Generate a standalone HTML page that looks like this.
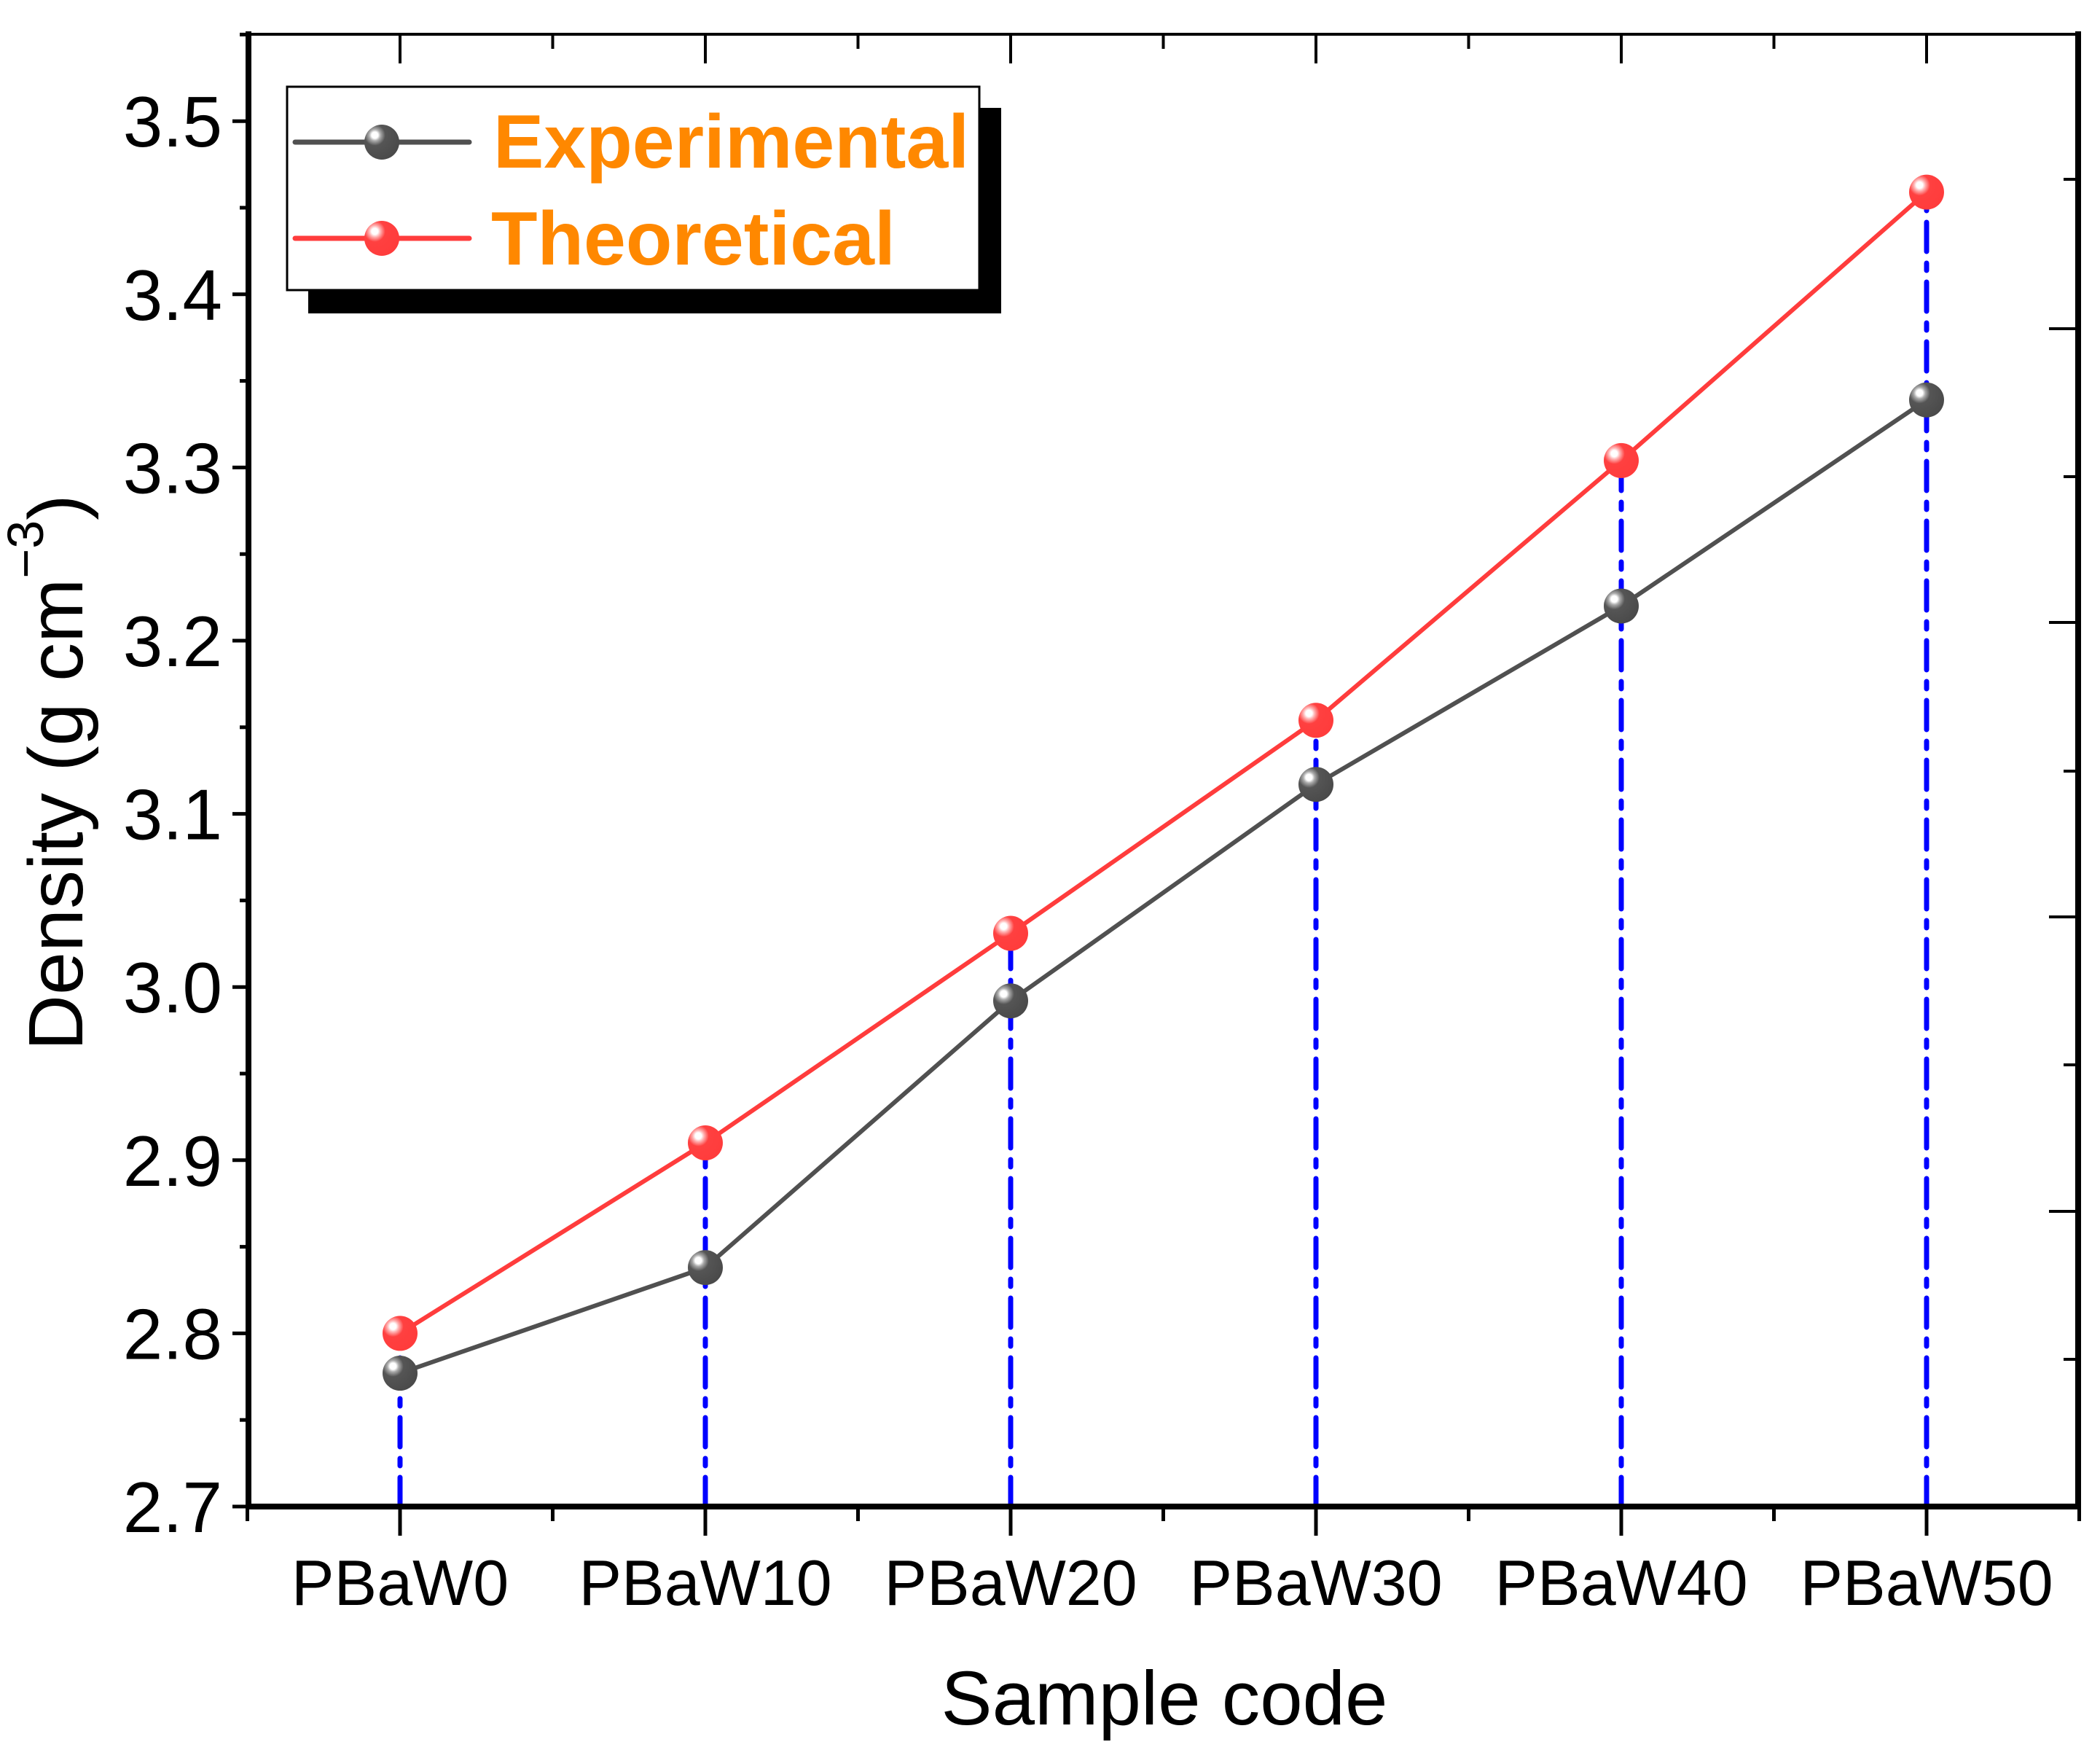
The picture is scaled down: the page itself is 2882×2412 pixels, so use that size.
<!DOCTYPE html>
<html><head><meta charset="utf-8"><style>
html,body{margin:0;padding:0;background:#fff;}
svg{display:block;font-family:"Liberation Sans",Arial,sans-serif;}
</style></head><body>
<svg id="chart" width="2882" height="2412" viewBox="0 0 2882 2412" xmlns="http://www.w3.org/2000/svg">
<defs>
<radialGradient id="gE" cx="0.3" cy="0.3" r="0.75"><stop offset="0" stop-color="#fff"/><stop offset="0.12" stop-color="#fff"/><stop offset="0.22" stop-color="#aaa"/><stop offset="0.4" stop-color="#555"/><stop offset="1" stop-color="#4a4a4a"/></radialGradient>
<radialGradient id="gT" cx="0.3" cy="0.3" r="0.75"><stop offset="0" stop-color="#fff"/><stop offset="0.12" stop-color="#fff"/><stop offset="0.22" stop-color="#ffb0b0"/><stop offset="0.4" stop-color="#ff4040"/><stop offset="1" stop-color="#ff3c3c"/></radialGradient>
</defs>
<g id="drops"></g>
<g id="series"></g>
<g id="axes"></g>
<text x="77" y="1060" font-size="106" text-anchor="middle" transform="rotate(-90 77 1060)" dominant-baseline="central">Density (g cm<tspan dy="-42" font-size="70">−3</tspan><tspan dy="42">)</tspan></text>
<text x="1598" y="2366" font-size="105" text-anchor="middle">Sample code</text>
<g>
<rect x="423" y="148" width="951" height="282" fill="#000"/>
<rect x="394" y="119" width="950" height="279" fill="#fff" stroke="#000" stroke-width="3"/>
<g>
<line x1="405" y1="195" x2="644" y2="195" stroke="#505050" stroke-width="7" stroke-linecap="round"/>
<circle cx="524" cy="195" r="24" fill="url(#gE)"/>
<text x="677" y="230" font-size="104" font-weight="bold" fill="#ff8800">Experimental</text>
</g>
<g>
<line x1="405" y1="327" x2="644" y2="327" stroke="#ff3c3c" stroke-width="7" stroke-linecap="round"/>
<circle cx="524" cy="327" r="24" fill="url(#gT)"/>
<text x="674" y="363" font-size="104" font-weight="bold" fill="#ff8800">Theoretical</text>
</g>
</g>
</svg>
<script>
const categories = ["PBaW0","PBaW10","PBaW20","PBaW30","PBaW40","PBaW50"];
const experimental = [2.777, 2.838, 2.992, 3.117, 3.220, 3.339];
const theoretical = [2.800, 2.910, 3.031, 3.154, 3.304, 3.459];
const yTicks = [2.7, 2.8, 2.9, 3.0, 3.1, 3.2, 3.3, 3.4, 3.5];
const yTickLabels = ["2.7","2.8","2.9","3.0","3.1","3.2","3.3","3.4","3.5"];

const NS = "http://www.w3.org/2000/svg";
const L = 341, R = 2852, T = 47, B = 2067;
function yScale(v){ return 2067 - (v - 2.7) / 0.1 * 237.6; }
function xScale(i){ return 549 + i * 419; }
function mk(tag, attrs, parent){ const e = document.createElementNS(NS, tag); for (const k in attrs) e.setAttribute(k, attrs[k]); parent.appendChild(e); return e; }

const axes = document.getElementById('axes');
const drops = document.getElementById('drops');
const series = document.getElementById('series');

categories.forEach((c, i) => {
  const top = Math.max(experimental[i], theoretical[i]);
  const l = mk('line', {x1: xScale(i), x2: xScale(i), y1: B, y2: yScale(top), stroke: '#0000ff', 'stroke-width': 7, 'stroke-dasharray': '40 16 10 16', 'stroke-linecap': 'round'}, drops);
  
  
});

function drawSeries(vals, color, grad, name){
  const pts = vals.map((v, i) => xScale(i) + ',' + yScale(v)).join(' ');
  const pl = mk('polyline', {points: pts, fill: 'none', stroke: color, 'stroke-width': 6, 'stroke-linejoin': 'round'}, series);
  
  
  vals.forEach((v, i) => {
    const c = mk('circle', {cx: xScale(i), cy: yScale(v), r: 24, fill: 'url(#' + grad + ')'}, series);
    
    
  });
}
drawSeries(experimental, '#505050', 'gE', 'experimental');
drawSeries(theoretical, '#ff3c3c', 'gT', 'theoretical');

const frame = mk('rect', {x: L, y: T, width: R - L, height: B - T, fill: 'none', stroke: '#000', 'stroke-width': 4}, axes);


const la = mk('line', {x1: L, x2: L, y1: T - 4, y2: B + 4, stroke: '#000', 'stroke-width': 8}, axes);


const ba = mk('line', {x1: L - 4, x2: R + 4, y1: B, y2: B, stroke: '#000', 'stroke-width': 8}, axes);


const ra = mk('line', {x1: R, x2: R, y1: T - 4, y2: B + 4, stroke: '#000', 'stroke-width': 8}, axes);



yTicks.forEach((v, i) => {
  const y = yScale(v);
  mk('line', {x1: L - 22, x2: L, y1: y, y2: y, stroke: '#000', 'stroke-width': 5}, axes);
  if (i < yTicks.length - 1) mk('line', {x1: L - 12, x2: L, y1: yScale(v + 0.05), y2: yScale(v + 0.05), stroke: '#000', 'stroke-width': 5}, axes);
  const t = mk('text', {x: L - 36, y: y + 35, 'font-size': 98, 'text-anchor': 'end'}, axes);
  t.textContent = yTickLabels[i];
  
  
});
mk('line', {x1: L - 12, x2: L, y1: yScale(3.55), y2: yScale(3.55), stroke: '#000', 'stroke-width': 5}, axes);

[246, 451, 654, 854, 1058, 1258, 1461, 1662, 1865].forEach((y, i) => {
  mk('line', {x1: R - (i % 2 ? 40 : 20), x2: R, y1: y, y2: y, stroke: '#000', 'stroke-width': 4}, axes);
});

categories.forEach((c, i) => {
  const x = xScale(i);
  mk('line', {x1: x, x2: x, y1: B, y2: B + 40, stroke: '#000', 'stroke-width': 5}, axes);
  mk('line', {x1: x - 209.5, x2: x - 209.5, y1: B, y2: B + 20, stroke: '#000', 'stroke-width': 5}, axes);
  mk('line', {x1: x, x2: x, y1: T, y2: T + 40, stroke: '#000', 'stroke-width': 4}, axes);
  mk('line', {x1: x - 209.5, x2: x - 209.5, y1: T, y2: T + 20, stroke: '#000', 'stroke-width': 4}, axes);
  const t = mk('text', {x: x, y: 2202, 'font-size': 88, 'text-anchor': 'middle'}, axes);
  t.textContent = c;
  
  
});
mk('line', {x1: xScale(5) + 209.5, x2: xScale(5) + 209.5, y1: B, y2: B + 20, stroke: '#000', 'stroke-width': 5}, axes);
mk('line', {x1: xScale(5) + 209.5, x2: xScale(5) + 209.5, y1: T, y2: T + 20, stroke: '#000', 'stroke-width': 4}, axes);
</script>
</body></html>
